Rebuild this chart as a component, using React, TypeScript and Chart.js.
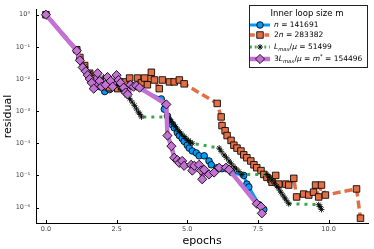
import React, { useEffect, useRef } from "react";
import { Chart, registerables } from "chart.js";
Chart.register(...registerables);

const FONT = '"DejaVu Sans", sans-serif';
const BLUE = "#009AFA";
const ORANGE = "#E26F46";
const GREEN = "#3DA44E";
const PURPLE = "#C371D2";
const STROKE = "rgba(0,0,0,0.85)";

// x = epochs, *Log = log10(residual)
const blueX = [0, 1.09, 1.2, 1.37, 1.55, 1.73, 1.9, 2.08, 2.25, 2.43, 2.61, 2.78, 2.96, 4.08, 4.19, 4.3, 4.37, 4.47, 4.54, 4.65, 4.72, 4.82, 4.89, 5.0, 5.07, 5.18, 5.32, 5.42, 5.6, 5.77, 5.85, 6.06, 6.23, 6.58, 7.0, 7.11, 7.18, 7.54, 7.71];
const blueLog = [0, -1.09, -1.39, -1.64, -1.88, -2.09, -2.24, -2.39, -2.33, -2.24, -2.24, -2.18, -2.18, -2.62, -2.94, -3.15, -3.3, -3.42, -3.52, -3.67, -3.76, -3.85, -3.94, -4.06, -4.15, -4.24, -4.3, -4.39, -4.39, -4.55, -4.67, -4.76, -4.79, -4.91, -5.0, -5.27, -5.36, -5.91, -6.06];

const orangeX = [0, 1.09, 1.2, 1.37, 1.55, 1.73, 1.9, 2.08, 2.25, 2.43, 2.54, 2.68, 2.78, 2.89, 2.96, 3.24, 3.38, 3.49, 3.59, 3.73, 3.84, 4.01, 4.12, 4.37, 4.54, 4.72, 4.89, 6.06, 6.2, 6.23, 6.34, 6.41, 6.55, 6.65, 6.76, 6.9, 7.0, 7.11, 7.25, 7.36, 7.46, 7.61, 7.71, 7.82, 7.96, 8.0, 8.13, 8.24, 8.49, 8.59, 8.77, 8.87, 9.12, 9.3, 9.47, 9.54, 9.65, 9.75, 9.89, 10.99, 11.13];
const orangeLog = [0, -1.09, -1.33, -1.58, -1.82, -2.0, -2.12, -2.24, -2.27, -2.18, -2.3, -2.24, -2.09, -2.33, -1.97, -1.97, -2.12, -1.97, -2.18, -1.79, -2.03, -2.3, -2.03, -2.09, -2.09, -2.03, -2.15, -2.76, -3.18, -3.45, -3.61, -3.76, -3.91, -4.06, -4.15, -4.24, -4.36, -4.45, -4.55, -4.67, -4.76, -4.85, -4.97, -5.06, -5.12, -5.21, -5.0, -5.27, -5.27, -5.3, -5.09, -5.67, -5.58, -5.61, -5.52, -5.3, -5.67, -5.3, -5.61, -5.42, -6.33];

const greenX = [0, 1.09, 1.2, 1.37, 1.55, 1.73, 1.9, 2.04, 2.18, 2.32, 2.46, 2.54, 2.65, 2.75, 2.86, 2.96, 3.05, 3.13, 3.2, 3.27, 3.33, 3.38, 4.3, 4.37, 4.44, 4.51, 4.58, 4.65, 4.72, 4.8, 4.89, 4.96, 5.04, 5.11, 5.18, 6.13, 6.2, 6.3, 6.39, 6.48, 6.56, 6.65, 6.74, 6.83, 6.94, 7.82, 7.9, 7.99, 8.08, 8.17, 8.24, 8.31, 8.38, 8.45, 8.52, 8.59, 9.65, 9.7, 9.75];
const greenLog = [0, -1.09, -1.36, -1.61, -1.82, -2.0, -2.06, -1.94, -2.12, -2.18, -2.15, -2.18, -2.3, -2.39, -2.5, -2.61, -2.72, -2.82, -2.93, -3.03, -3.1, -3.18, -3.18, -3.26, -3.33, -3.41, -3.48, -3.56, -3.64, -3.71, -3.79, -3.85, -3.91, -3.96, -4.0, -4.15, -4.25, -4.36, -4.45, -4.55, -4.64, -4.73, -4.8, -4.88, -4.97, -4.97, -5.06, -5.15, -5.24, -5.33, -5.42, -5.52, -5.61, -5.7, -5.79, -5.88, -5.91, -5.97, -6.06];

const purpleX = [0, 1.09, 1.2, 1.3, 1.41, 1.48, 1.55, 1.62, 1.69, 1.83, 1.9, 1.97, 2.11, 2.18, 2.29, 2.36, 2.5, 2.57, 2.64, 2.75, 2.82, 2.89, 2.99, 3.1, 3.2, 3.31, 4.26, 4.3, 4.44, 4.54, 4.65, 4.72, 4.82, 4.89, 5.14, 5.18, 5.25, 5.42, 5.49, 5.53, 5.6, 5.77, 5.95, 6.13, 6.37, 6.48, 7.46, 7.61, 7.64];
const purpleLog = [0, -1.12, -1.42, -1.64, -1.76, -1.88, -2.0, -2.12, -2.3, -1.82, -2.06, -2.24, -2.18, -1.94, -2.06, -2.24, -1.88, -2.03, -2.12, -2.27, -2.42, -2.48, -2.18, -2.24, -2.21, -2.27, -2.79, -3.76, -4.09, -4.45, -4.52, -4.61, -4.55, -4.7, -4.67, -4.85, -4.7, -4.67, -4.85, -5.12, -4.82, -4.97, -4.91, -4.76, -4.76, -4.82, -5.88, -5.97, -6.18];

const xTicks = [0, 2.5, 5, 7.5, 10];
const yTickExps = [0, -1, -2, -3, -4, -5, -6];
const X_MIN = -0.352;
const X_MAX = 11.41;
const Y_MIN_EXP = -6.48;
const Y_MAX_EXP = 0.15;

const legendTitle = "Inner loop size m";
type Part = { t: string; it?: boolean; sub?: boolean; sup?: boolean };
const legendLabels: Part[][] = [
  [{ t: "n", it: true }, { t: " = 141691" }],
  [{ t: "2" }, { t: "n", it: true }, { t: " = 283382" }],
  [{ t: "L", it: true }, { t: "max", it: true, sub: true }, { t: "/" }, { t: "μ", it: true }, { t: " = 51499" }],
  [{ t: "3" }, { t: "L", it: true }, { t: "max", it: true, sub: true }, { t: "/" }, { t: "μ", it: true }, { t: " = " }, { t: "m", it: true }, { t: "*", sup: true }, { t: " = 154496" }],
];

const SUP: Record<string, string> = { "0": "⁰", "1": "¹", "2": "²", "3": "³", "4": "⁴", "5": "⁵", "6": "⁶", "7": "⁷", "8": "⁸", "9": "⁹", "-": "⁻" };
const sup = (n: number) => String(n).split("").map((c) => SUP[c] || c).join("");

const toPts = (xs: number[], ls: number[]) => xs.map((x, i) => ({ x, y: Math.pow(10, ls[i]) }));

type Style = { color: string; width: number; dash: number[]; marker: string; r: number };
const styles: Style[] = [
  { color: BLUE, width: 3, dash: [], marker: "circle", r: 3.3 },
  { color: ORANGE, width: 3.5, dash: [8, 4], marker: "rect", r: 4.6 },
  { color: GREEN, width: 3, dash: [3, 5], marker: "star", r: 3 },
  { color: PURPLE, width: 4.5, dash: [], marker: "rectRot", r: 4.6 },
];

function drawMarker(ctx: CanvasRenderingContext2D, kind: string, x: number, y: number, r: number, fill: string) {
  ctx.save();
  ctx.setLineDash([]);
  ctx.fillStyle = fill;
  ctx.strokeStyle = STROKE;
  ctx.lineWidth = 1;
  ctx.beginPath();
  if (kind === "circle") {
    ctx.arc(x, y, r, 0, Math.PI * 2);
    ctx.fill();
    ctx.stroke();
  } else if (kind === "rect") {
    const s = r * Math.SQRT1_2;
    ctx.rect(x - s, y - s, 2 * s, 2 * s);
    ctx.fill();
    ctx.stroke();
  } else if (kind === "rectRot") {
    ctx.moveTo(x, y - r);
    ctx.lineTo(x + r, y);
    ctx.lineTo(x, y + r);
    ctx.lineTo(x - r, y);
    ctx.closePath();
    ctx.fill();
    ctx.stroke();
  } else if (kind === "star") {
    for (let k = 0; k < 4; k++) {
      const a = (k * Math.PI) / 4;
      ctx.moveTo(x - Math.cos(a) * r, y - Math.sin(a) * r);
      ctx.lineTo(x + Math.cos(a) * r, y + Math.sin(a) * r);
    }
    ctx.stroke();
  }
  ctx.restore();
}

function drawRich(ctx: CanvasRenderingContext2D, x: number, y: number, parts: Part[], size: number) {
  let cx = x;
  ctx.textAlign = "left";
  ctx.textBaseline = "middle";
  for (const p of parts) {
    const s = p.sub || p.sup ? size * 0.7 : size;
    ctx.font = `${p.it ? "italic " : ""}${s}px ${FONT}`;
    const dy = p.sub ? size * 0.3 : p.sup ? -size * 0.35 : 0;
    ctx.fillText(p.t, cx, y + dy);
    cx += ctx.measureText(p.t).width;
  }
}

const overlayPlugin = {
  id: "overlay",
  afterDraw(chart: any) {
    const ctx: CanvasRenderingContext2D = chart.ctx;
    const { left, bottom } = chart.chartArea;
    const xs = chart.scales.x;
    const ys = chart.scales.y;
    ctx.save();
    ctx.strokeStyle = "#000";
    ctx.lineWidth = 1;
    ctx.beginPath();
    for (const v of xTicks) {
      const px = Math.round(xs.getPixelForValue(v)) + 0.5;
      ctx.moveTo(px, bottom);
      ctx.lineTo(px, bottom - 3);
    }
    for (const e of yTickExps) {
      const py = Math.round(ys.getPixelForValue(Math.pow(10, e))) + 0.5;
      ctx.moveTo(left, py);
      ctx.lineTo(left + 3, py);
    }
    ctx.stroke();

    // legend
    const bx = 249.5, by = 5.5, bw = 118, bh = 62;
    ctx.fillStyle = "#fff";
    ctx.fillRect(bx, by, bw, bh);
    ctx.strokeStyle = "#222";
    ctx.strokeRect(bx, by, bw, bh);
    ctx.fillStyle = "#000";
    ctx.font = `8.5px ${FONT}`;
    ctx.textAlign = "center";
    ctx.textBaseline = "middle";
    ctx.fillText(legendTitle, 307, 14);
    const rows = [25, 35, 47, 59];
    styles.forEach((s, i) => {
      const y = rows[i];
      ctx.save();
      ctx.strokeStyle = s.color;
      ctx.lineWidth = s.width;
      ctx.setLineDash(s.dash.length ? [s.dash[0] * 0.6, s.dash[1] * 0.6] : []);
      ctx.beginPath();
      ctx.moveTo(250, y);
      ctx.lineTo(270, y);
      ctx.stroke();
      ctx.restore();
      drawMarker(ctx, s.marker, 260, y, s.r, s.color);
      ctx.fillStyle = "#000";
      drawRich(ctx, 274, y, legendLabels[i], 7.5);
    });
    ctx.restore();
  },
};

export default function App() {
  const ref = useRef<HTMLCanvasElement | null>(null);
  useEffect(() => {
    if (!ref.current) return;
    const series = [
      toPts(blueX, blueLog),
      toPts(orangeX, orangeLog),
      toPts(greenX, greenLog),
      toPts(purpleX, purpleLog),
    ];
    const chart = new Chart(ref.current, {
      type: "line",
      data: {
        datasets: series.map((d, i) => {
          const s = styles[i];
          return {
            data: d,
            borderColor: s.color,
            borderWidth: s.width,
            borderDash: s.dash,
            borderCapStyle: "butt",
            borderJoinStyle: "round",
            pointStyle: s.marker,
            pointRadius: s.r,
            pointBackgroundColor: s.color,
            pointBorderColor: STROKE,
            pointBorderWidth: 1,
            fill: false,
            tension: 0,
            order: 4 - i,
          } as any;
        }),
      },
      options: {
        animation: false,
        responsive: false,
        devicePixelRatio: 1,
        layout: { padding: { top: 3, right: 4, left: 0, bottom: 0 } },
        plugins: { legend: { display: false }, tooltip: { enabled: false } },
        events: [],
        scales: {
          x: {
            type: "linear",
            min: X_MIN,
            max: X_MAX,
            afterBuildTicks(s: any) {
              s.ticks = xTicks.map((v) => ({ value: v }));
              s.min = X_MIN;
              s.max = X_MAX;
            },
            afterFit(s: any) {
              s.height = 26;
            },
            grid: { display: false, drawTicks: false },
            border: { display: true, color: "#000", width: 1 },
            ticks: {
              autoSkip: false,
              maxRotation: 0,
              padding: 2,
              color: "#444",
              font: { family: FONT, size: 6.5 },
              callback: (v: any) => Number(v).toFixed(1),
            },
            title: {
              display: true,
              text: "epochs",
              color: "#000",
              font: { family: FONT, size: 11 },
              padding: { top: 0, bottom: 1.5 },
            },
          },
          y: {
            type: "logarithmic",
            min: Math.pow(10, Y_MIN_EXP),
            max: Math.pow(10, Y_MAX_EXP),
            afterBuildTicks(s: any) {
              s.ticks = yTickExps.map((e) => ({ value: Math.pow(10, e) }));
              s.min = Math.pow(10, Y_MIN_EXP);
              s.max = Math.pow(10, Y_MAX_EXP);
            },
            afterFit(s: any) {
              s.width = 36;
            },
            grid: { display: false, drawTicks: false },
            border: { display: true, color: "#000", width: 1 },
            ticks: {
              autoSkip: false,
              padding: 6,
              color: "#444",
              font: { family: FONT, size: 6.5 },
              callback: (v: any) => "10" + sup(Math.round(Math.log10(Number(v)))),
            },
            title: {
              display: true,
              text: "residual",
              color: "#000",
              font: { family: FONT, size: 11 },
              padding: { top: 1.5, bottom: 0 },
            },
          },
        },
      } as any,
      plugins: [overlayPlugin],
    });
    return () => chart.destroy();
  }, []);
  return (
    <div style={{ position: "absolute", left: 0, top: 0, width: 374, height: 249, background: "#fff" }}>
      <canvas ref={ref} width={374} height={249} style={{ display: "block", width: 374, height: 249 }} />
    </div>
  );
}
